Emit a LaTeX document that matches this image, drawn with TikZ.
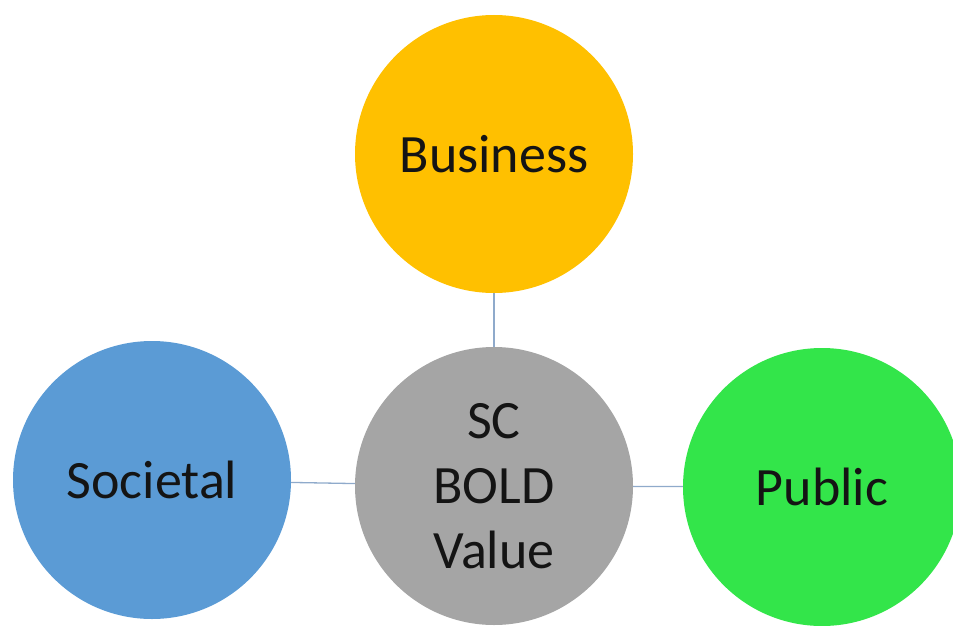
\documentclass[tikz,border=0pt]{standalone}
\usepackage{fontspec}
\setmainfont{Carlito}
\usetikzlibrary{backgrounds}
\definecolor{cbiz}{HTML}{FFC000}
\definecolor{csoc}{HTML}{5B9BD5}
\definecolor{cctr}{HTML}{A5A5A5}
\definecolor{cpub}{HTML}{33E54A}
\definecolor{clink}{HTML}{8FAACB}
\definecolor{ctext}{HTML}{141414}
\begin{document}
\begin{tikzpicture}[x=1pt,y=-1pt,
  bubble/.style={circle,minimum size=278pt,inner sep=0pt,text=ctext,
    font=\fontsize{54}{65}\selectfont,align=center},
  link/.style={draw=clink,line width=1.3pt}]
\useasboundingbox (0,0) rectangle (953,626);
\clip (0,0) rectangle (953,626);
\node[bubble,fill=cbiz] (biz) at (494,154) {Business};
\node[bubble,fill=csoc] (soc) at (152,480) {Societal};
\node[bubble,fill=cctr] (ctr) at (494,486) {SC\\BOLD\\Value};
\node[bubble,fill=cpub] (pub) at (822,487) {Public};
\begin{scope}[on background layer]
\draw[link] (biz) -- (ctr);
\draw[link] (soc) -- (ctr);
\draw[link] (ctr) -- (pub);
\end{scope}
\end{tikzpicture}
\end{document}
